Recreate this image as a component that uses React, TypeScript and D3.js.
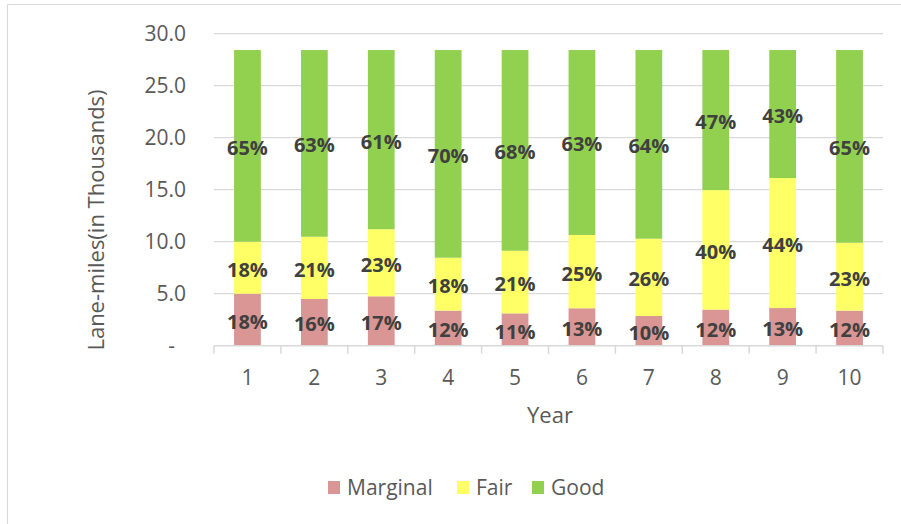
import React from "react";
import * as d3 from "d3";

const years = ["1", "2", "3", "4", "5", "6", "7", "8", "9", "10"];
const marginal = [5.0, 4.49, 4.75, 3.37, 3.11, 3.6, 2.86, 3.47, 3.62, 3.37];
const fair = [5.0, 5.99, 6.45, 5.09, 6.02, 7.05, 7.43, 11.49, 12.5, 6.53];
const good = [18.43, 17.95, 17.23, 19.97, 19.3, 17.78, 18.14, 13.47, 12.31, 18.53];
const seriesNames = ["Marginal", "Fair", "Good"];
const seriesColors = ["#d99694", "#ffff66", "#92d050"];
const yTicks = [0, 5, 10, 15, 20, 25, 30];

const W = 901;
const H = 524;
const FONT = "'Open Sans', 'DejaVu Sans', sans-serif";

export default function App() {
  const x = d3.scaleBand<string>().domain(years).range([214, 883]).paddingInner(0.6).paddingOuter(0.3);
  const y = d3.scaleLinear().domain([0, 30]).range([345.7, 33.7]);

  const rows = years.map((yr, i) => ({ year: yr, Marginal: marginal[i], Fair: fair[i], Good: good[i] }));
  const stack = d3.stack<any>().keys(seriesNames)(rows);
  const bandStep = x.step();

  return (
    <svg width={W} height={H} style={{ position: "absolute", left: 0, top: 0, background: "#fff" }} fontFamily={FONT}>
      <rect x={0} y={0} width={W} height={H} fill="#fff" />
      {/* chart frame (partially cropped) */}
      <line x1={7.5} x2={7.5} y1={4.5} y2={H} stroke="#d9d9d9" strokeWidth={1.2} />
      <line x1={7.5} x2={W} y1={4.5} y2={4.5} stroke="#d9d9d9" strokeWidth={1.2} />

      {/* gridlines */}
      {yTicks.filter((t) => t > 0).map((t) => (
        <line key={t} x1={214} x2={883} y1={y(t)} y2={y(t)} stroke="#d9d9d9" strokeWidth={1.3} />
      ))}
      {/* y tick labels */}
      {yTicks.map((t) => (
        <text key={t} x={t === 0 ? 175 : 186} y={y(t)} dy="0.35em" textAnchor="end" fontSize={21} fill="#595959">
          {t === 0 ? "-" : d3.format(".1f")(t)}
        </text>
      ))}

      {/* bars */}
      {stack.map((s, si) =>
        s.map((d, i) => (
          <rect
            key={si + "-" + i}
            x={x(years[i])!}
            y={y(d[1])}
            width={x.bandwidth()}
            height={y(d[0]) - y(d[1])}
            fill={seriesColors[si]}
          />
        ))
      )}

      {/* x axis */}
      <line x1={214} x2={883} y1={y(0)} y2={y(0)} stroke="#d9d9d9" strokeWidth={1.5} />
      {d3.range(years.length + 1).map((i) => (
        <line key={i} x1={214 + i * bandStep} x2={214 + i * bandStep} y1={y(0)} y2={y(0) + 8} stroke="#d9d9d9" strokeWidth={1.5} />
      ))}
      {years.map((yr) => (
        <text key={yr} x={x(yr)! + x.bandwidth() / 2} y={378} dy="0.35em" textAnchor="middle" fontSize={21} fill="#595959">
          {yr}
        </text>
      ))}

      {/* data labels */}
      {stack.map((s, si) =>
        s.map((d, i) => {
          const total = marginal[i] + fair[i] + good[i];
          const v = d[1] - d[0];
          const pct = Math.round((v / total) * 100) + "%";
          return (
            <text
              key={"l" + si + "-" + i}
              x={x(years[i])! + x.bandwidth() / 2}
              y={(y(d[0]) + y(d[1])) / 2 + 2}
              dy="0.35em"
              textAnchor="middle"
              fontSize={20}
              fontWeight="bold"
              fill="#404040"
            >
              {pct}
            </text>
          );
        })
      )}

      {/* axis titles */}
      <text x={550} y={415} dy="0.35em" textAnchor="middle" fontSize={22} fill="#595959">
        Year
      </text>
      <text
        transform={`translate(96,220) rotate(-90)`}
        dy="0.35em"
        textAnchor="middle"
        fontSize={22}
        fill="#595959"
      >
        Lane-miles(in Thousands)
      </text>

      {/* legend */}
      {[
        { name: seriesNames[0], x: 328 },
        { name: seriesNames[1], x: 457 },
        { name: seriesNames[2], x: 532 },
      ].map((l, i) => (
        <g key={l.name}>
          <rect x={l.x} y={481} width={12} height={13} fill={seriesColors[i]} />
          <text x={l.x + 19} y={488} dy="0.35em" fontSize={21} fill="#595959">
            {l.name}
          </text>
        </g>
      ))}
    </svg>
  );
}
